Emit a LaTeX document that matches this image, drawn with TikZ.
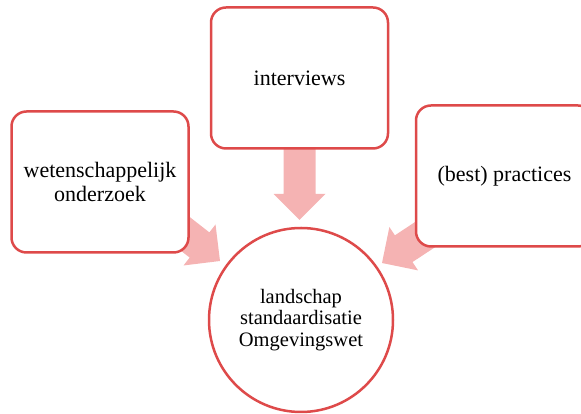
\documentclass[tikz,border=0pt]{standalone}
\usepackage{fontspec}
\setmainfont{Liberation Serif}
\usetikzlibrary{backgrounds}
\definecolor{boxred}{HTML}{DE4A4A}
\definecolor{arrowpink}{HTML}{F5B3B3}
\begin{document}
\begin{tikzpicture}[x=1pt,y=1pt,
  srcbox/.style={draw=boxred, line width=2.5pt, fill=white, rounded corners=15pt,
    minimum width=177pt, minimum height=141pt, align=center, inner sep=0pt,
    font=\fontsize{22}{24}\selectfont},
  hub/.style={draw=boxred, line width=2.5pt, fill=white, circle, minimum size=184pt,
    align=center, inner sep=0pt, font=\fontsize{20.5}{21.5}\selectfont},
  barrow/.pic={\fill[arrowpink] (0,0) -- (-26,26) -- (-26,16) -- (-75,16) -- (-75,-16) -- (-26,-16) -- (-26,-26) -- cycle;}
]
\clip (0,0) rectangle (581,414);
\node[srcbox] (wo) at (100,232) {wetenschappelijk\\onderzoek};
\node[srcbox] (iv) at (299.5,336) {interviews};
\node[srcbox] (bp) at (504.5,238) {(best) practices};
\node[hub] (ls) at (301,94) {landschap\\standaardisatie\\Omgevingswet};
\begin{pgfonlayer}{background}
  \coordinate (t1) at (220,153);
  \coordinate (t2) at (299.5,194);
  \coordinate (t3) at (382,151);
  \pic[rotate=-38] at (t1) {barrow};
  \pic[rotate=-90] at (t2) {barrow};
  \pic[rotate=213.4] at (t3) {barrow};
\end{pgfonlayer}
\end{tikzpicture}
\end{document}
